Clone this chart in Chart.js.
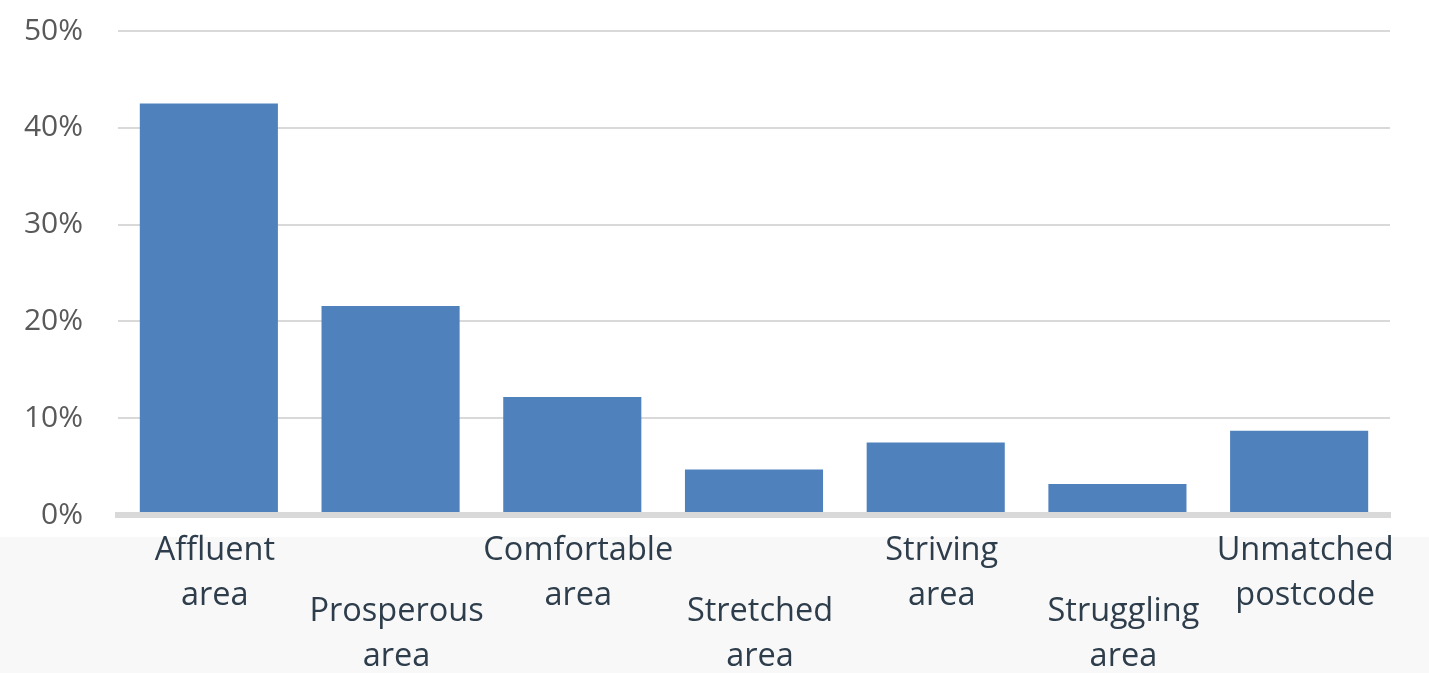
<!DOCTYPE html>
<html>
<head>
<meta charset="utf-8">
<script src="https://cdn.jsdelivr.net/npm/chart.js@4/dist/chart.umd.min.js"></script>
<style>
  html, body { margin: 0; padding: 0; background: #ffffff; }
  #wrap { width: 1429px; height: 673px; position: relative; }
</style>
</head>
<body>
<div id="wrap"><canvas id="chart"></canvas></div>
<script>
// Share of respondents by area classification
const categories = [
  ['Affluent', 'area'],
  ['Prosperous', 'area'],
  ['Comfortable', 'area'],
  ['Stretched', 'area'],
  ['Striving', 'area'],
  ['Struggling', 'area'],
  ['Unmatched', 'postcode']
];
const shares = [42.5, 21.6, 12.2, 4.7, 7.5, 3.2, 8.7];
const yTicks = [0, 10, 20, 30, 40, 50];

const labelFont = { family: '"Open Sans", sans-serif', size: 32.5, lineHeight: '45px' };
const labelColor = '#2e3d4b';

// Light panel behind the category labels
const panelBackground = {
  id: 'panelBackground',
  beforeDraw(chart) {
    const { ctx, width, height } = chart;
    ctx.save();
    ctx.fillStyle = '#ffffff';
    ctx.fillRect(0, 0, width, height);
    ctx.fillStyle = '#f8f8f8';
    ctx.fillRect(0, 537, width, height - 537);
    ctx.restore();
  }
};

new Chart(document.getElementById('chart'), {
  type: 'bar',
  data: {
    labels: categories,
    datasets: [{
      data: shares,
      backgroundColor: '#4f81bd',
      borderWidth: 0,
      barPercentage: 0.76,
      categoryPercentage: 1.0,
      xAxisID: 'x',
      yAxisID: 'y'
    }]
  },
  options: {
    responsive: true,
    maintainAspectRatio: false,
    animation: false,
    layout: { padding: { top: 31, right: 39, bottom: 0, left: 0 } },
    plugins: { legend: { display: false }, tooltip: { enabled: false } },
    scales: {
      // upper row of staggered labels (even positions) plus the zero line
      x: {
        type: 'category',
        position: 'bottom',
        weight: 0,
        grid: { display: false, drawTicks: false },
        border: { display: true, color: '#d9d9d9', width: 6, z: 1 },
        ticks: {
          autoSkip: false,
          maxRotation: 0,
          minRotation: 0,
          padding: 13,
          labelOffset: 6,
          font: labelFont,
          color: labelColor,
          callback: (v, i) => (i % 2 === 0 ? categories[i] : '')
        },
        afterFit: (s) => { s.height = 158; }
      },
      // lower row of staggered labels (odd positions), hung from the bottom edge
      x2: {
        type: 'category',
        position: 'bottom',
        weight: 1,
        labels: categories,
        grid: { display: false, drawTicks: false },
        border: { display: false },
        ticks: {
          autoSkip: false,
          maxRotation: 0,
          minRotation: 0,
          mirror: true,
          padding: 38.5,
          labelOffset: 6,
          font: labelFont,
          color: labelColor,
          callback: (v, i) => (i % 2 === 1 ? categories[i] : '')
        },
        afterFit: (s) => { s.height = 0; }
      },
      y: {
        min: 0,
        max: 50,
        afterBuildTicks: (s) => { s.ticks = yTicks.map(v => ({ value: v })); },
        grid: { color: '#d9d9d9', lineWidth: 2, drawTicks: false },
        border: { display: false },
        ticks: {
          padding: 35,
          font: { family: '"Open Sans", sans-serif', size: 30 },
          color: '#595959',
          callback: (v) => v + '%'
        },
        afterFit: (s) => {
          s.width = 118;
          s.paddingTop = 0;
          s.paddingBottom = 0;
        }
      }
    }
  },
  plugins: [panelBackground]
});
</script>
</body>
</html>
